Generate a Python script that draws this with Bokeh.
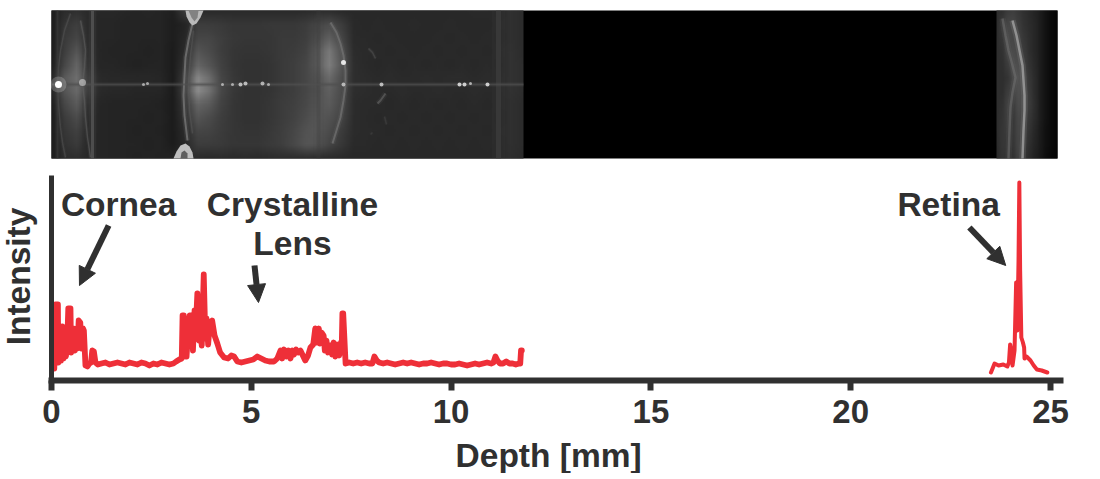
import numpy as np
from math import pi
from bokeh.core.properties import value
from bokeh.embed import file_html
from bokeh.layouts import column
from bokeh.models import Arrow, FixedTicker, LinearColorMapper, NormalHead, Range1d
from bokeh.palettes import gray
from bokeh.plotting import figure
from bokeh.resources import INLINE

# ---- intensity trace: depth [mm] / intensity [a.u.]
depth_front = [0.07,0.10,0.16,0.17,0.20,0.24,0.27,0.30,0.33,0.36,0.39,0.42,0.475,0.49,0.52,0.56,0.59,0.62,0.65,0.68,0.72,0.75,0.79,0.81,0.85,0.90,0.95,0.99,1.02,1.06,1.10,1.16,1.25,1.35,1.45,1.55,1.65,1.75,1.85,1.95,2.05,2.15,2.25,2.35,2.45,2.55,2.65,2.75,2.85,2.95,3.05,3.12,3.20,3.26,3.28,3.31,3.36,3.38,3.42,3.46,3.50,3.54,3.58,3.62,3.65,3.69,3.72,3.76,3.81,3.85,3.88,3.92,3.96,4.02,4.08,4.15,4.22,4.32,4.42,4.50,4.57,4.65,4.75,4.85,4.95,5.05,5.15,5.25,5.35,5.45,5.57,5.65,5.73,5.77,5.82,5.88,5.93,5.98,6.03,6.07,6.12,6.17,6.23,6.35,6.42,6.48,6.55,6.60,6.64,6.69,6.72,6.76,6.81,6.84,6.88,6.92,6.98,7.02,7.06,7.10,7.15,7.20,7.24,7.26,7.28,7.30,7.36,7.45,7.55,7.65,7.75,7.85,7.95,8.03,8.08,8.14,8.20,8.30,8.40,8.50,8.60,8.70,8.80,8.90,9.00,9.10,9.20,9.30,9.40,9.50,9.60,9.70,9.80,9.90,10.00,10.10,10.20,10.30,10.40,10.50,10.60,10.70,10.80,10.90,11.00,11.06,11.11,11.16,11.22,11.30,11.38,11.46,11.54,11.62,11.70,11.73,11.75,11.77]
intensity_front = [12,76,76,18,44,20,54,22,40,24,34,72,72,28,42,52,30,40,32,60,58,32,52,50,15,14,17,18,30,29,18,16,17,18,16,17,18,17,16,18,17,16,18,17,15,17,16,18,17,16,17,19,21,22,65,65,24,24,50,65,65,30,70,60,87,40,55,35,106,42,62,36,56,60,45,37,28,23,22,25,24,19,18,19,20,21,24,22,20,19,19,22,30,22,31,24,30,22,30,26,31,28,30,20,25,33,36,52,38,52,37,48,45,30,40,28,35,26,38,24,36,25,38,28,67,67,17,18,17,18,17,18,17,17,24,20,18,17,18,17,16,17,18,17,18,17,16,17,17,18,17,16,17,17,16,16,17,16,15,16,17,16,17,18,17,18,24,20,17,17,19,17,17,16,17,17,30,30,8]
depth_retina = [23.51,23.60,23.70,23.82,23.92,23.96,23.99,24.02,24.05,24.10,24.14,24.17,24.20,24.22,24.24,24.27,24.31,24.34,24.35,24.40,24.50,24.58,24.66,24.78,24.92]
intensity_retina = [8,17,15,16,14,18,36,30,15,30,98,50,120,198,110,43,38,33,22,24,20,15,11,10,8]

# ---- scan brightness (0-255), one row per list
anterior_01 = [30,44,48,42,40,40,38,36,38,36,32,60,44,42,42,42,42,42,42,42,42,44,46,46,42,40,40,40,40,40,40,40,40,40,40,42,42,40,48,44]
anterior_02 = [30,52,62,42,38,38,36,36,36,36,30,36,60,60,58,54,54,54,56,56,56,60,70,75,60,42,40,42,40,40,42,40,40,42,40,40,40,42,48,44]
anterior_03 = [30,58,70,44,38,38,36,36,36,36,30,40,70,70,62,56,54,54,54,58,58,62,78,95,70,42,42,40,42,40,40,40,42,40,42,40,42,40,48,44]
anterior_04 = [30,62,85,46,38,36,36,36,34,36,28,44,85,75,62,54,52,52,54,58,60,66,90,120,80,44,42,42,40,42,40,42,40,42,40,42,40,42,50,44]
anterior_05 = [32,70,100,50,38,38,36,34,36,36,28,50,100,85,65,54,50,50,52,58,62,70,92,125,85,46,42,40,42,40,42,40,42,40,42,40,42,40,50,46]
anterior_06 = [40,90,110,60,42,40,40,40,40,38,28,60,135,110,70,56,50,50,52,58,62,70,85,105,78,46,44,42,44,42,42,44,42,44,44,42,44,42,50,46]
anterior_07 = [40,85,105,60,42,40,40,38,38,38,28,65,140,115,72,56,50,50,52,58,62,70,82,95,75,46,44,42,42,44,42,42,44,42,42,44,42,42,50,46]
anterior_08 = [32,70,90,48,38,36,36,36,36,34,28,55,100,90,66,54,50,50,54,60,64,72,85,90,72,44,42,42,40,42,40,42,40,42,40,42,40,42,48,44]
anterior_09 = [30,60,75,44,38,36,36,36,34,36,28,50,85,75,62,54,50,50,54,60,66,76,88,82,68,44,42,40,42,40,42,40,42,40,42,40,42,40,48,44]
anterior_10 = [30,55,65,42,38,36,36,34,36,34,28,44,70,68,60,54,52,52,56,62,70,82,88,75,60,44,42,42,40,42,40,42,40,42,40,42,40,42,48,44]
anterior_11 = [30,50,58,40,38,36,36,36,34,36,28,40,60,60,58,54,54,54,58,62,72,84,84,68,55,42,42,40,42,40,42,40,42,40,42,40,42,40,48,44]
anterior_12 = [30,44,46,40,38,36,36,34,36,34,36,50,44,42,44,42,44,42,44,46,46,48,46,44,42,40,40,40,40,40,40,40,40,40,40,40,40,40,46,42]
retina_01 = [45,48,60,62,55,48,42,36,28,18,10,6]
retina_02 = [45,60,70,70,60,50,44,38,28,18,10,6]
retina_03 = [46,55,75,70,66,54,46,38,28,18,10,6]
retina_04 = [46,50,70,75,70,58,46,38,28,18,10,6]
retina_05 = [46,48,60,78,78,62,50,40,28,18,10,6]
retina_06 = [46,46,52,72,82,70,54,42,28,18,10,6]
retina_07 = [46,46,60,68,80,70,56,42,28,18,10,6]
retina_08 = [46,50,66,60,76,68,58,44,28,18,10,6]
retina_09 = [46,52,64,56,72,64,54,42,28,18,10,6]
retina_10 = [46,54,60,56,70,62,50,38,26,16,10,6]
retina_11 = [44,54,56,54,70,58,46,36,26,16,10,6]
retina_12 = [42,52,50,50,66,52,42,32,24,14,8,5]

# ---- structures seen in the scan, in picture pixels
scan_left, scan_right, scan_top, scan_bottom = 51, 1057, 10, 158
struct_x = [[70,64,60,58,57,58,60,62,65],[80,83,85,84,82,84,85,87,90],
            [192,188,185,184,183,184,187],[193,190,188,189,192],
            [330,336,340,343,345,345,343,340,336,332],
            [92,92],[57,57],[318,318],[498,498],[51,523],
            [1012,1016,1019,1022,1023,1024,1024,1023,1022],
            [1002,1005,1008,1012,1015,1012,1010,1009,1008],
            [368,372,375],[385,380,377],[372,370],[384,386]]
struct_y = [[13,30,50,67,83,105,127,142,157],[20,35,50,67,83,100,117,137,157],
            [23,40,57,75,95,115,140],[30,55,83,110,133],
            [22,32,43,55,70,85,100,117,130,143],
            [10,158],[10,158],[10,158],[10,158],[84,84],
            [20,35,50,65,80,95,110,130,158],
            [18,35,50,65,77,92,107,130,158],
            [48,52,58],[93,100,103],[132,134],[116,124]]
struct_grey = [85,100,125,90,118,90,62,58,68,80,165,115,80,95,70,70]
struct_width = [1.5,1.5,2,1.5,2,3,2,4,5,2,2.5,2.5,1.5,2,1.5,1.5]
struct_alpha = [0.5,0.5,0.7,0.5,0.65,0.7,0.5,0.3,0.55,0.7,0.75,0.5,0.6,0.7,0.5,0.5]
spot_x = [58,58,82,143,147,222,232,240,245,262,268,343,343,381,459,464,470,487]
spot_y = [84,84,82,84,83,84,84,84,83,83,84,62,84,84,84,84,83,84]
spot_size = [16,7,7,3,3,3,3,4,4,4,3,5,4,4,4,4,3,4]
spot_alpha = [0.2,1,0.45,0.55,0.55,0.55,0.55,0.65,0.65,0.6,0.55,0.85,0.6,0.65,0.75,0.75,0.6,0.75]
blob_x = [[185,203,200,196,192,189,186],[188,198,197,194,191],
          [173,193,192,189,185,180,176],[180,187,187,184,181]]
blob_y = [[10,10,17,23,25,22,16],[10,10,17,21,17],
          [158,158,152,146,143,145,151],[158,158,153,150,152]]
blob_grey = [185,130,190,95]

# ---- texts, ticks and arrows
depth_ticks = [0,5,10,15,20,25]
note_text = ["Cornea","Crystalline","Lens","Retina","Depth [mm]"]
note_depth = [1.68,6.03,6.03,22.45,12.44]
note_level = [176,176,137,176,-75]
y_title = ["Intensity"]
y_title_depth = [-0.826]
y_title_level = [104]
arrow_from_depth = [1.43,5.08,22.97]
arrow_from_level = [155,115,153]
arrow_to_depth = [0.70,5.18,23.88]
arrow_to_level = [95,78,115]

FONT = "Liberation Sans"
INK = "#303030"
RED = "#ee2f38"
grey_mapper = LinearColorMapper(palette=gray(256), low=0, high=255)


def smooth(rows):
    grid = np.array(rows, dtype=float)
    ny, nx = grid.shape
    fine_y = np.linspace(0, ny - 1, ny * 6)
    fine_x = np.linspace(0, nx - 1, nx * 6)
    by_x = np.array([np.interp(fine_x, np.arange(nx), r) for r in grid])
    return np.array([np.interp(fine_y, np.arange(ny), c) for c in by_x.T]).T


# ---- scan panel (picture pixel coordinates; frame fills the figure)
top = figure(width=1092, height=165, x_range=Range1d(0, 1092), y_range=Range1d(165, 0),
             toolbar_location=None, output_backend="svg", min_border=0,
             background_fill_color="white", border_fill_color="white",
             x_axis_type=None, y_axis_type=None, outline_line_color=None)
top.grid.visible = False
top.quad(left=[scan_left], right=[scan_right], top=[scan_top], bottom=[scan_bottom],
         fill_color="black", line_color=None)
anterior = [anterior_01,anterior_02,anterior_03,anterior_04,anterior_05,anterior_06,
            anterior_07,anterior_08,anterior_09,anterior_10,anterior_11,anterior_12]
posterior = [retina_01,retina_02,retina_03,retina_04,retina_05,retina_06,
             retina_07,retina_08,retina_09,retina_10,retina_11,retina_12]
top.image(image=[smooth(anterior)], x=51, y=10, dw=472, dh=148, color_mapper=grey_mapper)
top.image(image=[smooth(posterior)], x=996, y=10, dw=61, dh=148, color_mapper=grey_mapper)
struct_color = ["#%02x%02x%02x" % (g, g, g) for g in struct_grey]
top.multi_line(struct_x, struct_y, line_color=struct_color,
               line_width=[w * 2.6 for w in struct_width],
               line_alpha=[a * 0.22 for a in struct_alpha])
top.multi_line(struct_x, struct_y, line_color=struct_color, line_width=struct_width, line_alpha=struct_alpha)
blob_color = ["#%02x%02x%02x" % (g, g, g) for g in blob_grey]
top.patches(blob_x, blob_y, fill_color=blob_color, line_color=None)
top.scatter(spot_x, spot_y, size=spot_size, fill_color="white", fill_alpha=spot_alpha, line_color=None)

# ---- intensity panel: the frame fills the figure, the axes sit inside it at depth 0 / level 0
PX_PER_MM = 39.96
bottom = figure(width=1092, height=308,
                x_range=Range1d(-51 / PX_PER_MM, (1092 - 51) / PX_PER_MM),
                y_range=Range1d(-93, 215),
                toolbar_location=None, output_backend="svg", min_border=0, outline_line_color=None,
                background_fill_color="white", border_fill_color="white")
bottom.grid.visible = False
bottom.line(depth_front, intensity_front, line_color=RED, line_width=5.8, line_join="round", line_cap="round")
bottom.line(depth_retina, intensity_retina, line_color=RED, line_width=4, line_join="round", line_cap="round")

xa = bottom.xaxis[0]
xa.fixed_location = 0
xa.bounds = (0, 25.25)
xa.ticker = FixedTicker(ticks=depth_ticks)
xa.major_label_text_font = FONT
xa.major_label_text_font_style = "bold"
xa.major_label_text_font_size = "33px"
xa.major_label_text_color = INK
xa.major_label_standoff = 9
xa.axis_line_color = INK
xa.axis_line_width = 6
xa.axis_line_cap = "square"
xa.major_tick_line_color = INK
xa.major_tick_line_width = 6
xa.major_tick_out = 10
xa.major_tick_in = 0
xa.minor_tick_line_color = None

ya = bottom.yaxis[0]
ya.fixed_location = 0
ya.bounds = (0, 205)
ya.ticker = FixedTicker(ticks=[])
ya.axis_line_color = INK
ya.axis_line_width = 5
ya.axis_line_cap = "butt"
ya.major_tick_line_color = None
ya.minor_tick_line_color = None
ya.major_label_text_font_size = "0px"

bottom.text(note_depth, note_level, text=note_text, text_font=value(FONT), text_font_style="bold",
            text_font_size="33.5px", text_color=INK, text_align="center", text_baseline="middle")
bottom.text(y_title_depth, y_title_level, text=y_title, angle=pi / 2, text_font=value(FONT),
            text_font_style="bold", text_font_size="33.5px", text_color=INK,
            text_align="center", text_baseline="middle")
for x0, y0, x1, y1 in zip(arrow_from_depth, arrow_from_level, arrow_to_depth, arrow_to_level):
    bottom.add_layout(Arrow(end=NormalHead(size=18, fill_color=INK, line_color=INK, line_width=1),
                            x_start=x0, y_start=y0, x_end=x1, y_end=y1,
                            line_color=INK, line_width=6))

page = column(top, bottom, spacing=0)
open("out.html", "w").write(file_html(page, INLINE))
